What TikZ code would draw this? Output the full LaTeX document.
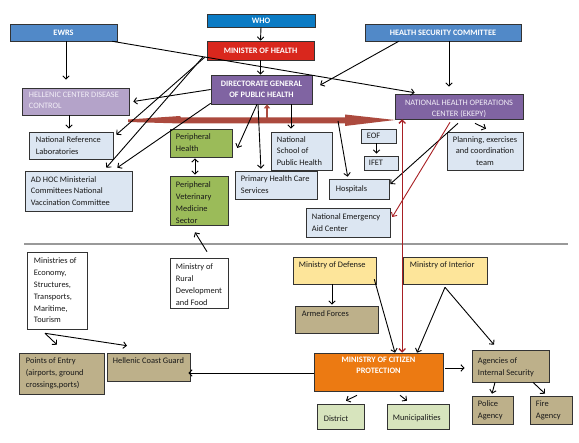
\documentclass[tikz,border=0pt]{standalone}
\usepackage{fontspec}
\setmainfont{Carlito}
\usetikzlibrary{arrows.meta,shadows,fit}
\definecolor{whoblue}{HTML}{0B7BC4}
\definecolor{ewrsblue}{HTML}{5189C8}
\definecolor{mohred}{HTML}{D9271D}
\definecolor{dgpurple}{HTML}{8064A2}
\definecolor{lpurple}{HTML}{B4A3C9}
\definecolor{lblue}{HTML}{DCE6F2}
\definecolor{pgreen}{HTML}{9BBB59}
\definecolor{myellow}{HTML}{FDE59A}
\definecolor{mtan}{HTML}{BDB08A}
\definecolor{morange}{HTML}{EC7A12}
\definecolor{lgreen}{HTML}{D7E4BD}
\definecolor{bandred}{HTML}{AC4A3E}
\definecolor{linered}{HTML}{A82024}
\definecolor{lighttxt}{HTML}{F2EEF7}
\begin{document}
\begin{tikzpicture}[x=1pt,y=-1pt,
  box/.style={draw=black!80, line width=0.6pt, inner sep=0pt,
    drop shadow={shadow xshift=1.3pt, shadow yshift=-1.3pt, opacity=0.45}},
  txt/.style={inner sep=0pt, align=left, font=\fontsize{8.4}{11.8}\selectfont, text=black!90},
  ttl/.style={inner sep=0pt, align=center, font=\fontsize{8.3}{11}\selectfont\bfseries, text=white},
  ltxt/.style={inner sep=0pt, font=\fontsize{8.3}{11}\selectfont, text=lighttxt},
  conn/.style={line width=0.9pt, -{Straight Barb[length=3.2pt,width=6.5pt]}},
  dconn/.style={line width=0.9pt, {Straight Barb[length=3.2pt,width=6.5pt]}-{Straight Barb[length=3.2pt,width=6.5pt]}},
  redc/.style={draw=linered, line width=0.9pt, -{Straight Barb[length=3.2pt,width=6.5pt]}},
  redd/.style={draw=linered, line width=1.3pt, {Straight Barb[length=3.2pt,width=6.5pt]}-{Straight Barb[length=3.2pt,width=6.5pt]}},
]
\useasboundingbox (0,0) rectangle (579,443);
\fill[white] (0,0) rectangle (579,443);

% ---------- thick red band ----------
\fill[bandred] (128,119.5) -- (180,116) -- (181,117.5) -- (345,117.5) -- (345,114.5)
  -- (395,120) -- (345,126) -- (345,123.5) -- (181,123.5) -- (128,122) -- cycle;
\coordinate (bandA) at (338,121);
\coordinate (bandB) at (267,118);

% separator
\draw[black!40, line width=1.8pt] (24,244) -- (568,244);

% ---------- boxes (geometry) ----------
\node[box, fill=whoblue, fit={(207,14) (315,27)}] (who) {};
\node[box, fill=mohred, fit={(207,41) (314,60)}] (moh) {};
\node[box, fill=ewrsblue, fit={(10,24) (117,41)}] (ewrs) {};
\node[box, fill=ewrsblue, fit={(365,24) (521,41)}] (hsc) {};
\node[box, fill=dgpurple, fit={(211,75) (312,104)}] (dg) {};
\node[box, fill=lpurple, fit={(22,88) (129,115)}] (hcdc) {};
\node[box, fill=dgpurple, fit={(395,94) (523,119)}] (nhoc) {};
\node[box, fill=lblue, fit={(29,132) (113,159)}] (nrl) {};
\node[box, fill=lblue, fit={(25,171) (132,211)}] (adhoc) {};
\node[box, fill=pgreen, fit={(170,129) (232,157)}] (ph) {};
\node[box, fill=pgreen, fit={(170,176) (228,225)}] (pvet) {};
\node[box, fill=lblue, fit={(271,132) (332,170)}] (nsph) {};
\node[box, fill=lblue, fit={(235,171) (317,199)}] (phc) {};
\node[box, fill=lblue, fit={(361,129) (396,143)}] (eof) {};
\node[box, fill=lblue, fit={(364,156) (398,170)}] (ifet) {};
\node[box, fill=lblue, fit={(329,179) (389,199)}] (hosp) {};
\node[box, fill=lblue, fit={(306,208) (390,237)}] (neac) {};
\node[box, fill=lblue, fit={(447,132) (523,170)}] (plan) {};
\node[box, fill=white, fit={(27,252) (87,329)}] (minecon) {};
\node[box, fill=white, fit={(170,258) (228,308)}] (minrural) {};
\node[box, fill=myellow, fit={(293,257) (376,284)}] (mod) {};
\node[box, fill=myellow, fit={(403,257) (487,284)}] (moi) {};
\node[box, fill=mtan, fit={(295,306) (378,333)}] (af) {};
\node[box, fill=morange, fit={(314,353) (443,391)}] (mcp) {};
\node[box, fill=mtan, fit={(19,353) (104,394)}] (poe) {};
\node[box, fill=mtan, fit={(107,353) (190,381)}] (hcg) {};
\node[box, fill=mtan, fit={(472,350) (549,382)}] (agen) {};
\node[box, fill=mtan, fit={(472,396) (513,424)}] (police) {};
\node[box, fill=mtan, fit={(530,396) (572,424)}] (fire) {};
\node[box, fill=lgreen, fit={(317,404) (364,429)}] (district) {};
\node[box, fill=lgreen, fit={(387,404) (449,429)}] (muni) {};

% ---------- connectors ----------
\draw[conn] (who.south) -- (moh.north);
\draw[conn] (moh.south) -- (moh.south |- dg.north);
\draw[conn, shorten >=8pt] ([xshift=2.5pt]ewrs.south) -- ([xshift=2.5pt]ewrs.south |- hcdc.north);
\draw[conn] ([xshift=-5pt]ewrs.south east) -- ([xshift=20pt,yshift=1pt]nhoc.north west);
\draw[conn, shorten >=9pt] ([xshift=34pt]hsc.south west) -- (dg.east);
\draw[conn, shorten >=7pt] ([xshift=6pt]hsc.south) -- ([xshift=6pt]hsc.south |- nhoc.north);
\draw[conn] ([xshift=-2pt,yshift=3pt]moh.south west) -- ([xshift=3pt,yshift=-3pt]nrl.north east);
\draw[conn] ([xshift=-4pt,yshift=3pt]moh.south west) -- ([xshift=-26pt,yshift=3pt]adhoc.north east);
\draw[conn] ([yshift=1pt]dg.south west) -- ([xshift=-15pt,yshift=3pt]adhoc.north east);
\draw[conn] (dg.west) -- ([xshift=4pt]hcdc.east);
\draw[conn, shorten >=3pt] ([xshift=-2pt]nrl.north |- hcdc.south) -- ([xshift=-2pt]nrl.north);
\draw[conn] ([xshift=-4.5pt]dg.south) -- ([xshift=5pt,yshift=-5pt]ph.east);
\draw[conn, shorten >=2pt] ([xshift=-3.5pt]dg.south) -- ([xshift=-15pt]phc.north);
\draw[conn, shorten >=3pt] ([xshift=29.5pt]dg.south) -- ([xshift=29.5pt]dg.south |- nsph.north);
\draw[conn, shorten >=2pt] (bandA) -- ([xshift=-11pt]hosp.north);
\draw[dconn, shorten >=1pt, shorten <=1pt] ([xshift=-6pt]ph.south) -- ([xshift=-6pt]ph.south |- pvet.north);
\draw[conn] ([xshift=8pt,yshift=6pt]minrural.north) -- ([xshift=-4pt,yshift=-7pt]pvet.south);
\draw[conn, shorten >=2pt] ([xshift=-2pt]eof.south) -- ([xshift=-2pt]eof.south |- ifet.north);
\draw[conn] ([xshift=16pt,yshift=-4pt]nhoc.south) -- ([xshift=1pt,yshift=3pt]plan.north);
\draw[conn] ([xshift=-1pt,yshift=-4pt]nhoc.south) -- ([xshift=1pt,yshift=5pt]hosp.east);
\draw[redc] ([xshift=-9pt,yshift=-3pt]nhoc.south) -- ([xshift=2pt,yshift=5.5pt]neac.east);
\draw[redd] ([xshift=7.5pt]nhoc.south west) -- ([xshift=7.5pt]nhoc.south west |- mcp.north);
\draw[draw=bandred, line width=2pt, -{Triangle[length=4pt,width=6pt]}] (bandB) -- ([xshift=5.5pt]dg.south);
\draw[conn, shorten >=1pt] ([xshift=-2.5pt]mod.south) -- ([xshift=-2.5pt]mod.south |- af.north);
\draw[conn] ([xshift=-2pt,yshift=5pt]mod.south east) -- ([xshift=16.5pt]mcp.north);
\draw[conn] ([yshift=-3pt]moi.south) -- ([xshift=38.5pt]mcp.north);
\draw[conn] ([yshift=-3pt]moi.south) -- ([xshift=-16.5pt,yshift=5pt]agen.north);
\draw[conn] ([xshift=2pt,yshift=4pt]mcp.east) -- ([xshift=-7pt,yshift=4pt]mcp.east -| agen.west);
\draw[conn, shorten >=-2pt] ([yshift=-1pt]mcp.west) -- ([yshift=-1pt]mcp.west -| hcg.east);
\draw[conn] ([xshift=-21.5pt,yshift=-4pt]mcp.south) -- ([xshift=5.5pt,yshift=3pt]district.north);
\draw[conn] ([xshift=21.5pt,yshift=-4pt]mcp.south) -- ([xshift=-11pt,yshift=3pt]muni.north);
\draw[conn] ([xshift=-15.5pt]agen.south) -- ([xshift=-0.5pt,yshift=2pt]police.north);
\draw[conn] ([xshift=22.5pt]agen.south) -- ([xshift=-6pt,yshift=2pt]fire.north);
\coordinate (econout) at ([xshift=-12pt,yshift=-4pt]minecon.south);
\draw[conn] (econout) -- ([xshift=-4.5pt,yshift=8pt]poe.north);
\draw[conn] (econout) -- ([xshift=-21.5pt,yshift=7pt]hcg.north);

% ---------- texts ----------
\node[ttl] (who-t) at (who.center) {WHO};
\node[ttl] (moh-t) at (moh.center) {MINISTER OF HEALTH};
\node[ttl] (ewrs-t) at (ewrs.center) {EWRS};
\node[ttl] (hsc-t) at (hsc.center) {HEALTH SECURITY COMMITTEE};
\node[ttl] (dg-t) at (dg.center) {DIRECTORATE GENERAL\\OF PUBLIC HEALTH};
\node[ltxt, align=left, anchor=west] (hcdc-t) at ([xshift=7pt,yshift=1pt]hcdc.west) {HELLENIC CENTER DISEASE\\CONTROL};
\node[ltxt, align=center] (nhoc-t) at ([yshift=-2pt]nhoc.center) {NATIONAL HEALTH OPERATIONS\\CENTER (EKEPY)};
\node[txt, anchor=west] (nrl-t) at ([xshift=7pt]nrl.west) {National Reference\\Laboratories};
\node[txt, anchor=west] (adhoc-t) at ([xshift=6pt]adhoc.west) {AD HOC Ministerial\\Committees National\\Vaccination Committee};
\node[txt, anchor=west] (ph-t) at ([xshift=6pt]ph.west) {Peripheral\\Health};
\node[txt, anchor=west] (pvet-t) at ([xshift=6pt,yshift=-2pt]pvet.west) {Peripheral\\Veterinary\\Medicine\\Sector};
\node[txt, anchor=west] (nsph-t) at ([xshift=6pt]nsph.west) {National\\School of\\Public Health};
\node[txt, anchor=west] (phc-t) at ([xshift=6pt]phc.west) {Primary Health Care\\Services};
\node[txt, anchor=west] (eof-t) at ([xshift=6pt]eof.west) {EOF};
\node[txt, anchor=west] (ifet-t) at ([xshift=5pt]ifet.west) {IFET};
\node[txt, anchor=west] (hosp-t) at ([xshift=7pt]hosp.west) {Hospitals};
\node[txt, anchor=west] (neac-t) at ([xshift=6pt]neac.west) {National Emergency\\Aid Center};
\node[txt, align=center] (plan-t) at (plan.center) {Planning, exercises\\and coordination\\team};
\node[txt, anchor=west] (minecon-t) at ([xshift=7pt]minecon.west) {Ministries of\\Economy,\\Structures,\\Transports,\\Maritime,\\Tourism};
\begin{scope}
  \clip (minrural.north west) rectangle (minrural.south east);
  \node[txt, anchor=north west] (minrural-t) at ([xshift=6pt,yshift=-6pt]minrural.north west) {Ministry of\\Rural\\Development\\and Food};
\end{scope}
\node[txt, anchor=north west] (mod-t) at ([xshift=6pt,yshift=-5pt]mod.north west) {Ministry of Defense};
\node[txt, anchor=north west] (moi-t) at ([xshift=7pt,yshift=-5pt]moi.north west) {Ministry of Interior};
\node[txt, anchor=north west] (af-t) at ([xshift=7pt,yshift=-5pt]af.north west) {Armed Forces};
\node[ttl, anchor=north] (mcp-t) at ([yshift=-4.5pt]mcp.north) {MINISTRY OF CITIZEN\\PROTECTION};
\node[txt, anchor=north west] (poe-t) at ([xshift=7pt,yshift=-5pt]poe.north west) {Points of Entry\\(airports, ground\\crossings,ports)};
\node[txt, anchor=north west] (hcg-t) at ([xshift=6pt,yshift=-5pt]hcg.north west) {Hellenic Coast Guard};
\node[txt, anchor=west] (agen-t) at ([xshift=6pt,yshift=-1pt]agen.west) {Agencies of\\Internal Security};
\node[txt, anchor=west] (police-t) at ([xshift=6pt]police.west) {Police\\Agency};
\node[txt, anchor=west] (fire-t) at ([xshift=6pt]fire.west) {Fire\\Agency};
\node[txt, anchor=west] (district-t) at ([xshift=7pt,yshift=-2pt]district.west) {District};
\node[txt, anchor=west] (muni-t) at ([xshift=6pt,yshift=-2pt]muni.west) {Municipalities};
\end{tikzpicture}
\end{document}
